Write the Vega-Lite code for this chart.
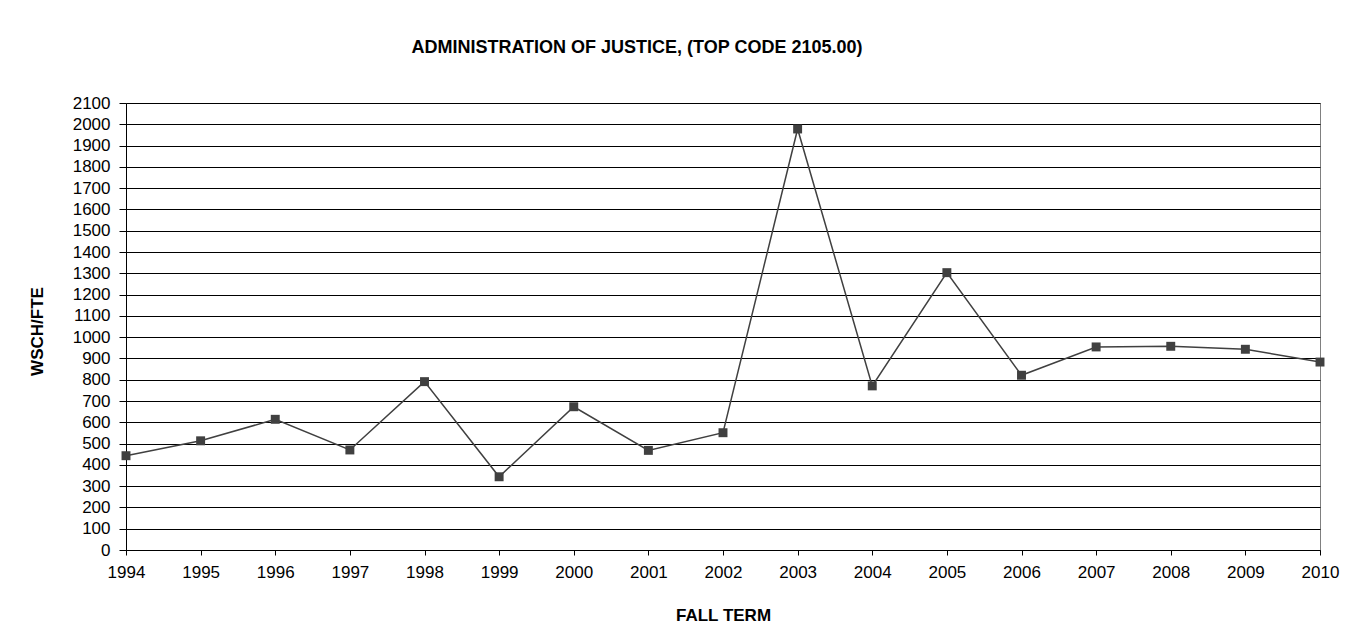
{
  "$schema": "https://vega.github.io/schema/vega-lite/v6.json",
  "autosize": "none",
  "width": 1194,
  "height": 447,
  "padding": {"left": 126, "top": 103, "right": 32, "bottom": 85},
  "background": "white",
  "title": {
    "text": "ADMINISTRATION OF JUSTICE, (TOP CODE 2105.00)",
    "font": "Liberation Sans",
    "fontSize": 18,
    "fontWeight": "bold",
    "color": "black",
    "anchor": "middle",
    "frame": "group",
    "baseline": "alphabetic",
    "dx": -86,
    "offset": 23
  },
  "config": {
    "view": {"stroke": "#808080", "strokeWidth": 1},
    "axis": {
      "labelFont": "Liberation Sans",
      "labelFontSize": 17,
      "labelColor": "black",
      "titleFont": "Liberation Sans",
      "titleFontSize": 17,
      "titleFontWeight": "bold",
      "titleColor": "black",
      "domainColor": "black",
      "tickColor": "black"
    }
  },
  "data": {
    "values": [
      {"year": 1994, "wsch": 443},
      {"year": 1995, "wsch": 513},
      {"year": 1996, "wsch": 614},
      {"year": 1997, "wsch": 470},
      {"year": 1998, "wsch": 791},
      {"year": 1999, "wsch": 344},
      {"year": 2000, "wsch": 673},
      {"year": 2001, "wsch": 468},
      {"year": 2002, "wsch": 551},
      {"year": 2003, "wsch": 1978},
      {"year": 2004, "wsch": 771},
      {"year": 2005, "wsch": 1303},
      {"year": 2006, "wsch": 821},
      {"year": 2007, "wsch": 954},
      {"year": 2008, "wsch": 957},
      {"year": 2009, "wsch": 943},
      {"year": 2010, "wsch": 883}
    ]
  },
  "encoding": {
    "x": {
      "field": "year",
      "type": "quantitative",
      "scale": {"domain": [1994, 2010], "nice": false, "zero": false},
      "axis": {
        "title": "FALL TERM",
        "values": [1994,1995,1996,1997,1998,1999,2000,2001,2002,2003,2004,2005,2006,2007,2008,2009,2010],
        "format": "d",
        "grid": false,
        "tickSize": 5,
        "labelPadding": 22,
        "labelBaseline": "alphabetic",
        "labelFlush": false,
        "labelOverlap": false,
        "titleX": 597,
        "titleY": 70,
        "titleBaseline": "alphabetic",
        "titleAlign": "center"
      }
    },
    "y": {
      "field": "wsch",
      "type": "quantitative",
      "scale": {"domain": [0, 2100], "nice": false},
      "axis": {
        "title": "WSCH/FTE",
        "values": [0,100,200,300,400,500,600,700,800,900,1000,1100,1200,1300,1400,1500,1600,1700,1800,1900,2000,2100],
        "format": "d",
        "grid": true,
        "gridColor": "black",
        "gridOpacity": 1,
        "gridWidth": 1,
        "tickSize": 7,
        "labelPadding": 9,
        "labelOverlap": false,
        "labelFlush": false,
        "titleX": -84,
        "titleY": 228,
        "titleAngle": -90,
        "titleBaseline": "alphabetic",
        "titleAlign": "center"
      }
    }
  },
  "layer": [
    {"mark": {"type": "line", "color": "#404040", "strokeWidth": 1.5}},
    {"mark": {"type": "point", "shape": "square", "filled": true, "size": 80, "color": "#404040", "opacity": 1}}
  ]
}
